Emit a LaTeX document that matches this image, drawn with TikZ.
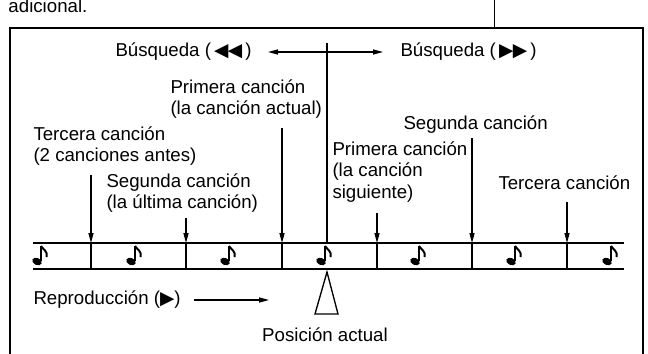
\documentclass[tikz,border=0pt]{standalone}
\usepackage{fontspec}
\setmainfont{Liberation Sans}
\newfontfamily\symfont{DejaVu Sans}
\usetikzlibrary{arrows.meta}

\tikzset{every picture/.style={line width=0.75pt}}
\tikzset{
  lbl/.style={font=\fontsize{14}{16}\selectfont, align=left, inner sep=0pt},
  downarr/.style={line width=0.9pt, -{Triangle[length=7.5pt,width=3.8pt]}},
}

\begin{document}
\begin{tikzpicture}[x=0.75pt,y=0.75pt,yscale=-1,xscale=1]
\clip (0,0) rectangle (648,353);

% Text Node
\draw (8,13) node [lbl, anchor=base west] (adic) {adicional.};
%Straight Lines
\coordinate (ext) at (494,-5);
\coordinate (frtop) at (494,28);
\draw (ext) -- (frtop);

%Shape: Rectangle
\draw [line width=1pt] (10,28) rectangle (643,380);

% Track
\draw [line width=1.2pt] (33,243) -- (624,243);
\draw [line width=1.2pt] (33,269) -- (624,269);
\foreach \x [count=\i] in {91,186,282,377,472,567} {
  \coordinate (d\i) at (\x,243);
  \draw [line width=1pt] (\x,243) -- (\x,269);
}
% Notes
\foreach \x in {41,135,229,325,419,515,611} {
  \fill [rotate around={25:(\x-4,261.5)}] (\x-4,261.5) ellipse (5 and 3.5);
  \draw [line width=1.2pt] (\x,261) -- (\x,245.5);
  \draw [line width=1.5pt] (\x,246) .. controls (\x+2,249.5) and (\x+7,251) .. (\x+5.5,257);
}

% Text Node
\draw (252,52) node [lbl, anchor=east] (busqL) {Búsqueda (\,{\symfont ◀\kern-0.5pt◀}\,)};
% Text Node
\draw (400,52) node [lbl, anchor=west] (busqR) {Búsqueda (\,{\symfont ▶\kern-0.5pt▶}\,)};
%Straight Lines
\coordinate (ctr) at (327,52);
\coordinate (ctop) at (327,43);
\coordinate (cpos) at (327,243);
\coordinate (bl) at (268,52);
\coordinate (br) at (383,52);
\draw [downarr] (ctr) -- (bl);
\draw [downarr] (ctr) -- (br);
\draw [line width=0.9pt] (ctop) -- (cpos);

% Text Node
\draw (170,99) node [lbl, anchor=west] (prim1) {Primera canción\\(la canción actual)};
% Text Node
\draw (33,146) node [lbl, anchor=west] (terc1) {Tercera canción\\(2 canciones antes)};
% Text Node
\draw (106,193) node [lbl, anchor=west] (seg1) {Segunda canción\\(la última canción)};
% Text Node
\draw (403,125) node [lbl, anchor=west] (seg2) {Segunda canción};
% Text Node
\draw (332,172) node [lbl, anchor=west] (prim2) {Primera canción\\(la canción\\siguiente)};
% Text Node
\draw (498,183) node [lbl, anchor=west] (terc2) {Tercera canción};

%Straight Lines
\coordinate (a1) at (91,175);
\coordinate (a2) at (186,218);
\coordinate (a3) at (282,128);
\coordinate (a4) at (377,213);
\coordinate (a5) at (472,138);
\coordinate (a6) at (567,202);
\foreach \i in {1,...,6} {
  \draw [downarr] (a\i) -- (d\i);
}

%Triangle
\draw [line width=1pt] (327,272) -- (315,314) -- (338,314) -- cycle ;

% Text Node
\draw (33,300) node [lbl, anchor=west] (repro) {Reproducción ({\symfont ▶})};
\coordinate (rs) at (194,300);
\coordinate (re) at (269,300);
\draw [downarr] (rs) -- (re);

% Text Node
\draw (325,335) node [lbl] (posact) {Posición actual};

\end{tikzpicture}
\end{document}
